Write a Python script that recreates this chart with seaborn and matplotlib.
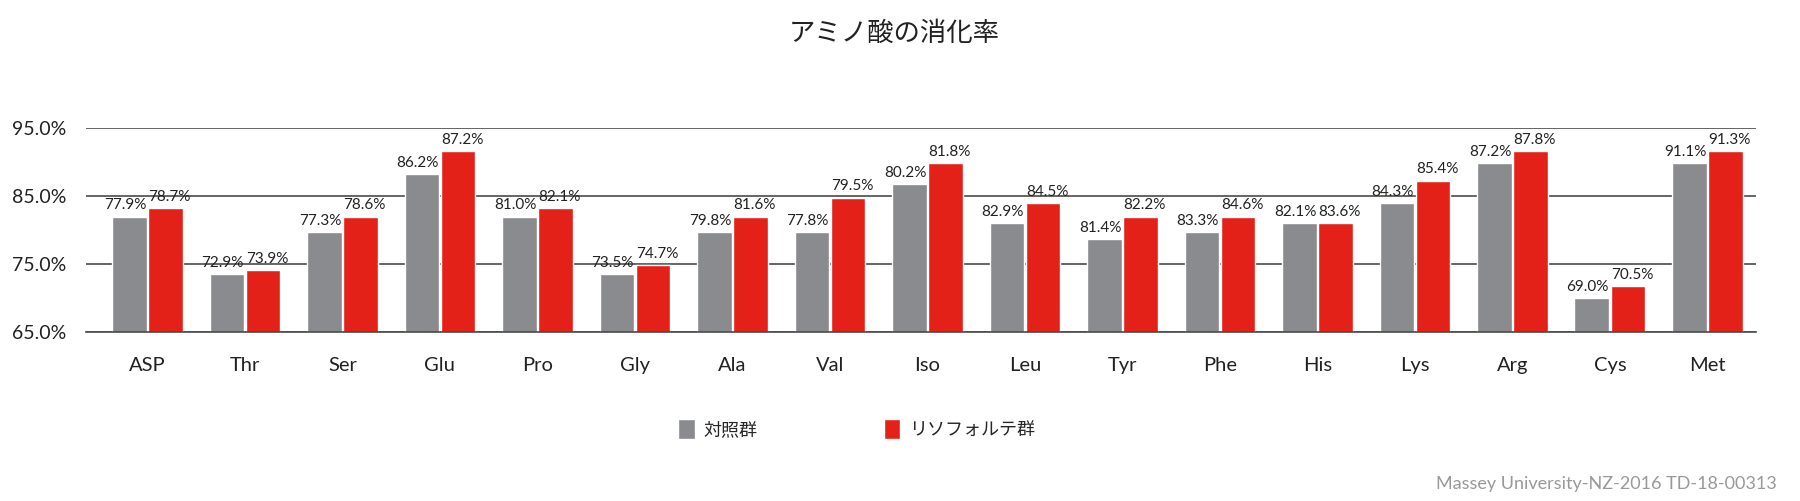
import pandas as pd
import seaborn as sns
import matplotlib.pyplot as plt

# data
amino = ['ASP', 'Thr', 'Ser', 'Glu', 'Pro', 'Gly', 'Ala', 'Val', 'Iso',
         'Leu', 'Tyr', 'Phe', 'His', 'Lys', 'Arg', 'Cys', 'Met']
control = [82.0, 73.5, 79.7, 88.2, 82.0, 73.5, 79.7, 79.7, 86.8,
           81.1, 78.7, 79.7, 81.1, 84.0, 89.9, 70.0, 89.9]
treated = [83.3, 74.1, 82.0, 91.7, 83.3, 74.9, 82.0, 84.8, 89.9,
           84.0, 82.0, 82.0, 81.1, 87.3, 91.7, 71.8, 91.7]
control_labels = ['77.9%', '72.9%', '77.3%', '86.2%', '81.0%', '73.5%', '79.8%', '77.8%', '80.2%',
                  '82.9%', '81.4%', '83.3%', '82.1%', '84.3%', '87.2%', '69.0%', '91.1%']
treated_labels = ['78.7%', '73.9%', '78.6%', '87.2%', '82.1%', '74.7%', '81.6%', '79.5%', '81.8%',
                  '84.5%', '82.2%', '84.6%', '83.6%', '85.4%', '87.8%', '70.5%', '91.3%']
groups = ['対照群', 'リソフォルテ群']
yticks = [65, 75, 85, 95]

df = pd.DataFrame({'amino': amino * 2,
                   'value': control + treated,
                   'group': [groups[0]] * len(amino) + [groups[1]] * len(amino)})

sns.set_style('white')
plt.rcParams['font.family'] = ['Lato', 'Noto Sans CJK JP', 'DejaVu Sans']

fig = plt.figure(figsize=(18, 5.01), dpi=100)
ax = fig.add_axes([0.0478, 0.337, 0.9278, 0.407])

gray = '#8a8b8e'
red = '#e32119'
sns.barplot(data=df, x='amino', y='value', hue='group', palette=[gray, red], saturation=1,
            width=0.74, gap=0.04, edgecolor='white', linewidth=1, ax=ax)

# gray labels nudged left, red labels nudged right so neighbours don't collide
for cont, labs, dx in zip(ax.containers, [control_labels, treated_labels], [-3, 3]):
    anns = ax.bar_label(cont, labels=labs, padding=3, fontsize=11, color='#222222')
    for a in anns:
        a.xyann = (dx, 3)

ax.set_ylim(65, 95)
ax.set_xlim(-0.63, 16.5)
ax.set_yticks(yticks)
ax.set_yticklabels([f'{t:.1f}%' for t in yticks], fontsize=14, color='#222222')
ax.tick_params(axis='y', pad=14, length=0)
ax.tick_params(axis='x', pad=18, length=0, labelsize=14.5, labelcolor='#222222')
ax.set_xlabel('')
ax.set_ylabel('')
ax.yaxis.grid(True, color='#4a4a4a', linewidth=1.2)
ax.set_axisbelow(True)
for s in ['top', 'right', 'left']:
    ax.spines[s].set_visible(False)
ax.spines['bottom'].set_color('#4a4a4a')
ax.spines['bottom'].set_linewidth(1.2)

handles, labels = ax.get_legend_handles_labels()
ax.legend(handles, labels, loc='center', bbox_to_anchor=(0.476, 0.144),
          bbox_transform=fig.transFigure, ncol=2, frameon=False, fontsize=13,
          handlelength=0.9, handleheight=1.3, handletextpad=0.5, columnspacing=7)

fig.text(0.497, 0.934, 'アミノ酸の消化率', ha='center', va='center', fontsize=19, color='#222222')
fig.text(0.987, 0.034, 'Massey University-NZ-2016 TD-18-00313', ha='right', va='center',
         fontsize=13, color='#999999')

fig.savefig('out.png', dpi=100)
